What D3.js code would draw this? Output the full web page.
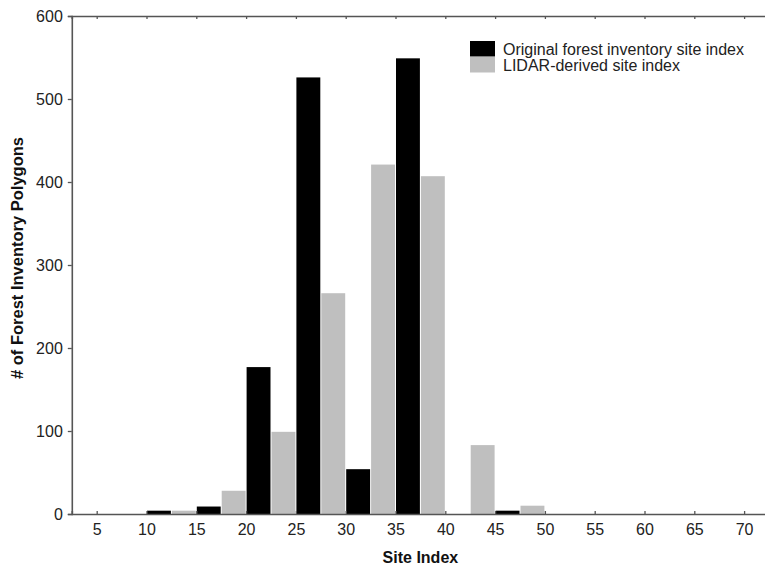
<!DOCTYPE html>
<html><head><meta charset="utf-8">
<script src="https://cdn.jsdelivr.net/npm/d3@7"></script>
<style>body{margin:0;background:#fff}svg{display:block}text{font-family:"Liberation Sans",Arial,sans-serif}</style>
</head><body>
<svg id="c" width="765" height="569"></svg>
<script>
const binStarts = [10, 15, 20, 25, 30, 35, 40, 45];
const originalSI = [4, 9, 177, 526, 54, 549, 0, 4];
const lidarSI = [4, 28, 99, 266, 421, 407, 83, 10];
const xTicks = [5, 10, 15, 20, 25, 30, 35, 40, 45, 50, 55, 60, 65, 70];
const yTicks = [0, 100, 200, 300, 400, 500, 600];
const seriesNames = ["Original forest inventory site index", "LIDAR-derived site index"];
const seriesColors = ["#000000", "#bfbfbf"];

const svg = d3.select("#c");
const x = d3.scaleLinear().domain([2.5, 72.5]).range([71.8, 769]);
const y = d3.scaleLinear().domain([0, 600]).range([514, 16]);
const axisCol = "#555";

// bars
const half = 2.5;
const series = [originalSI, lidarSI];
series.forEach((vals, si) => {
  svg.append("g").selectAll("rect").data(binStarts.map((b, i) => ({b, v: vals[i]})).filter(d => d.v > 0))
    .join("rect")
    .attr("x", d => x(d.b + si * half) + 0.5)
    .attr("width", d => x(d.b + (si + 1) * half) - x(d.b + si * half) - 1)
    .attr("y", d => y(d.v))
    .attr("height", d => y(0) - y(d.v))
    .attr("fill", seriesColors[si]);
});

// axes
const gB = svg.append("g").attr("transform", `translate(0,${y(0)})`)
  .call(d3.axisBottom(x).tickValues(xTicks).tickSize(-3).tickPadding(10).tickFormat(d3.format("d")));
const gT = svg.append("g").attr("transform", `translate(0,${y(600)})`)
  .call(d3.axisTop(x).tickValues(xTicks).tickSize(-3).tickFormat(""));
const gL = svg.append("g").attr("transform", `translate(${x(2.5)},0)`)
  .call(d3.axisLeft(y).tickValues(yTicks).tickSize(4).tickPadding(5));
const gR = svg.append("g").attr("transform", `translate(${x(72.5)},0)`)
  .call(d3.axisRight(y).tickValues(yTicks).tickSize(-3).tickFormat(""));
[gB, gT, gL, gR].forEach(g => {
  g.select(".domain").attr("stroke", axisCol).attr("stroke-width", 1.6);
  g.selectAll(".tick line").attr("stroke", axisCol).attr("stroke-width", 1.3);
  g.selectAll(".tick text").attr("font-size", 16).attr("fill", "#222")
    .attr("font-family", '"Liberation Sans",Arial,sans-serif');
});

// axis titles
svg.append("text").attr("x", (x(2.5) + x(72.5)) / 2).attr("y", 563)
  .attr("text-anchor", "middle").attr("font-size", 16).attr("font-weight", "bold").attr("fill", "#111")
  .text("Site Index");
svg.append("text").attr("transform", `translate(23,258) rotate(-90)`)
  .attr("text-anchor", "middle").attr("font-size", 16.5).attr("font-weight", "bold").attr("fill", "#111")
  .text("# of Forest Inventory Polygons");

// legend
const lg = svg.append("g").attr("transform", "translate(470,41)");
seriesNames.forEach((n, i) => {
  lg.append("rect").attr("x", 0).attr("y", i * 16).attr("width", 25).attr("height", 15.5).attr("fill", seriesColors[i]);
  lg.append("text").attr("x", 33).attr("y", i * 16 + 14).attr("font-size", 16).attr("fill", "#222").text(n);
});
</script>
</body></html>
